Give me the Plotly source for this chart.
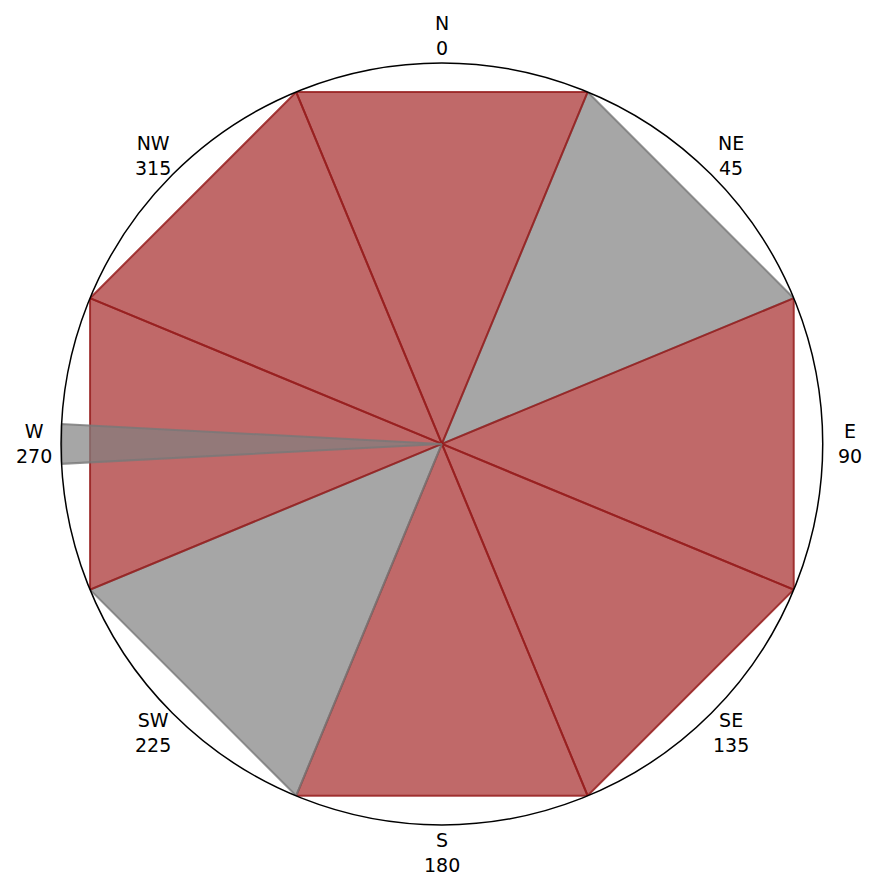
import math
import plotly.graph_objects as go

# direction sectors (degrees, clockwise from north)
directions = ['N', 'NE', 'E', 'SE', 'S', 'SW', 'W', 'NW']
angles = [0, 45, 90, 135, 180, 225, 270, 315]
widths = [45, 45, 45, 45, 45, 45, 45, 45]
radii = [1.0, 1.0, 1.0, 1.0, 1.0, 1.0, 1.0, 1.0]
groups = ['red', 'grey', 'red', 'red', 'red', 'grey', 'red', 'red']

# narrow extra wedge
extra_angle = 270
extra_width = 6
extra_radius = 1.0

colors = {
    'red': ('rgba(165,42,42,0.7)', 'rgba(150,30,30,0.85)'),
    'grey': ('rgba(128,128,128,0.7)', 'rgba(120,120,120,0.8)'),
}

draw_order = [1, 0, 2, 3, 4, 5, 6, 7]

W, H = 877, 886
dom_x = [0.0605, 0.929]
dom_y = [0.078, 0.938]


def wedge(center, width, r, group):
    fill, edge = colors[group]
    return go.Scatterpolar(
        r=[0, r, r, 0],
        theta=[center, center - width / 2, center + width / 2, center],
        mode='lines', fill='toself', fillcolor=fill,
        line=dict(color=edge, width=2),
        hoverinfo='skip', showlegend=False,
    )


fig = go.Figure()
for i in draw_order:
    fig.add_trace(wedge(angles[i], widths[i], radii[i], groups[i]))
fig.add_trace(wedge(extra_angle, extra_width, extra_radius, 'grey'))

# direction labels just outside the circle (polar domain -> paper coords)
cx = (dom_x[0] + dom_x[1]) / 2
cy = (dom_y[0] + dom_y[1]) / 2
rad_px = min((dom_x[1] - dom_x[0]) * W, (dom_y[1] - dom_y[0]) * H) / 2
label_px = rad_px * 1.072
for d, a in zip(directions, angles):
    t = math.radians(a)
    fig.add_annotation(
        x=cx + label_px * math.sin(t) / W, y=cy + label_px * math.cos(t) / H,
        xref='paper', yref='paper', xanchor='center', yanchor='middle',
        text=f'{d}<br>{a}', showarrow=False,
        font=dict(family='DejaVu Sans', size=19, color='black'),
    )

fig.update_layout(
    width=W, height=H,
    margin=dict(l=0, r=0, t=0, b=0),
    paper_bgcolor='white',
    font=dict(family='DejaVu Sans', size=19, color='black'),
    polar=dict(
        domain=dict(x=dom_x, y=dom_y),
        bgcolor='white',
        radialaxis=dict(range=[0, 1], visible=False, showgrid=False),
        angularaxis=dict(
            rotation=90, direction='clockwise',
            tickvals=angles, showticklabels=False,
            showgrid=False, linecolor='black', linewidth=1.5,
            ticks='',
        ),
    ),
)

fig.write_html("out.html")
